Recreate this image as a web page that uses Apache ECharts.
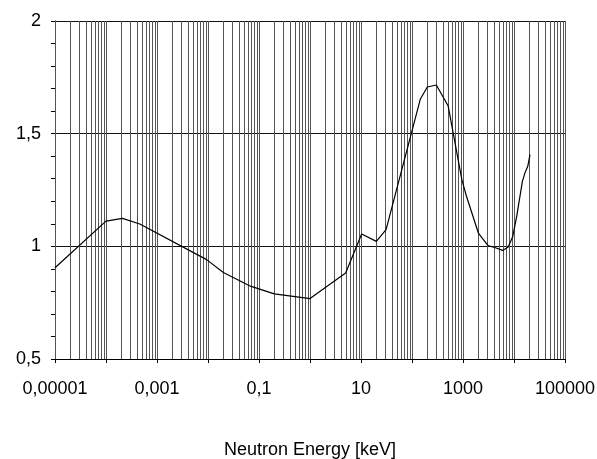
<!DOCTYPE html>
<html>
<head>
<meta charset="utf-8">
<script src="https://cdn.jsdelivr.net/npm/echarts@6/dist/echarts.min.js"></script>
<style>
  html, body { margin: 0; padding: 0; background: #fff; }
  #main { width: 597px; height: 459px; }
</style>
</head>
<body>
<div id="main"></div>
<script>
// neutron energy in keV and the plotted ratio
const energyKeV = [1e-5, 1e-4, 2.1e-4, 4.6e-4, 0.0094, 0.02, 0.07, 0.2, 1, 5, 10.3, 20, 31,
  146, 200, 300, 510, 950, 1170, 2000, 3100, 4200, 6000, 7700, 9450, 11300, 14600, 16400, 18600, 20600];
const ratio = [0.905, 1.112, 1.124, 1.099, 0.941, 0.884, 0.822, 0.789, 0.768, 0.882, 1.055, 1.022, 1.074,
  1.654, 1.707, 1.716, 1.624, 1.296, 1.222, 1.059, 1.003, 0.995, 0.982, 0.997, 1.044, 1.133, 1.288, 1.326, 1.355, 1.407];

// labelled decades (exponent -> text)
const xLabelExp = [-5, -3, -1, 1, 3, 5];
const xLabelText = ['0,00001', '0,001', '0,1', '10', '1000', '100000'];

const yMin = 0.5;
const yMax = 2;

// vertical grid: every 1..9 x 10^k between 1e-5 and 1e5
const gridX = [];
for (let k = -5; k < 5; k++) {
  for (let m = 1; m <= 9; m++) gridX.push(m * Math.pow(10, k));
}
gridX.push(1e5);

const chart = echarts.init(document.getElementById('main'), null, { renderer: 'canvas' });

const font = 'Liberation Sans, Arial, sans-serif';

const option = {
  animation: false,
  backgroundColor: '#fff',
  grid: { left: 55, right: 32, top: 21, bottom: 100, outerBoundsMode: 'none', containLabel: false },
  xAxis: {
    type: 'log',
    logBase: 10,
    min: 1e-5,
    max: 1e5,
    interval: 1,
    name: 'Neutron Energy [keV]',
    nameLocation: 'middle',
    nameGap: 82,
    nameTextStyle: { color: '#000', fontSize: 18, fontFamily: font },
    axisLine: { show: true, onZero: false, lineStyle: { color: '#000', width: 1 } },
    axisTick: { show: true, length: 4, lineStyle: { color: '#000' } },
    splitLine: { show: false },
    axisLabel: {
      color: '#000',
      fontSize: 18,
      fontFamily: font,
      margin: 21,
      showMinLabel: true,
      showMaxLabel: true,
      formatter: function (v) {
        const e = Math.round(Math.log10(v));
        const i = xLabelExp.indexOf(e);
        return i >= 0 ? xLabelText[i] : '';
      }
    }
  },
  yAxis: {
    type: 'value',
    min: yMin,
    max: yMax,
    interval: 0.5,
    axisLine: { show: true, lineStyle: { color: '#000', width: 1 } },
    axisTick: { show: true, length: 4, lineStyle: { color: '#000' } },
    minorTick: { show: true, splitNumber: 5, length: 4, lineStyle: { color: '#000' } },
    splitLine: { show: true, lineStyle: { color: '#111', width: 1 } },
    axisLabel: {
      color: '#000',
      fontSize: 18,
      fontFamily: font,
      margin: 14,
      formatter: function (v) { return String(v).replace('.', ','); }
    }
  },
  series: [
    {
      // log-scale vertical grid lines
      type: 'custom',
      z: 1,
      silent: true,
      data: gridX.map(function (x) { return [x, yMin]; }),
      encode: { x: 0, y: 1 },
      renderItem: function (params, api) {
        const x = api.value(0);
        const p0 = api.coord([x, yMin]);
        const p1 = api.coord([x, yMax]);
        const px = Math.round(p0[0]) + 0.5;
        return {
          type: 'line',
          shape: { x1: px, y1: p0[1], x2: px, y2: p1[1] },
          style: { stroke: '#555', lineWidth: 1 }
        };
      }
    },
    {
      type: 'line',
      z: 3,
      data: energyKeV.map(function (e, i) { return [e, ratio[i]]; }),
      showSymbol: false,
      symbol: 'none',
      smooth: false,
      lineStyle: { color: '#000', width: 1.2 }
    }
  ]
};

chart.setOption(option);
</script>
</body>
</html>
